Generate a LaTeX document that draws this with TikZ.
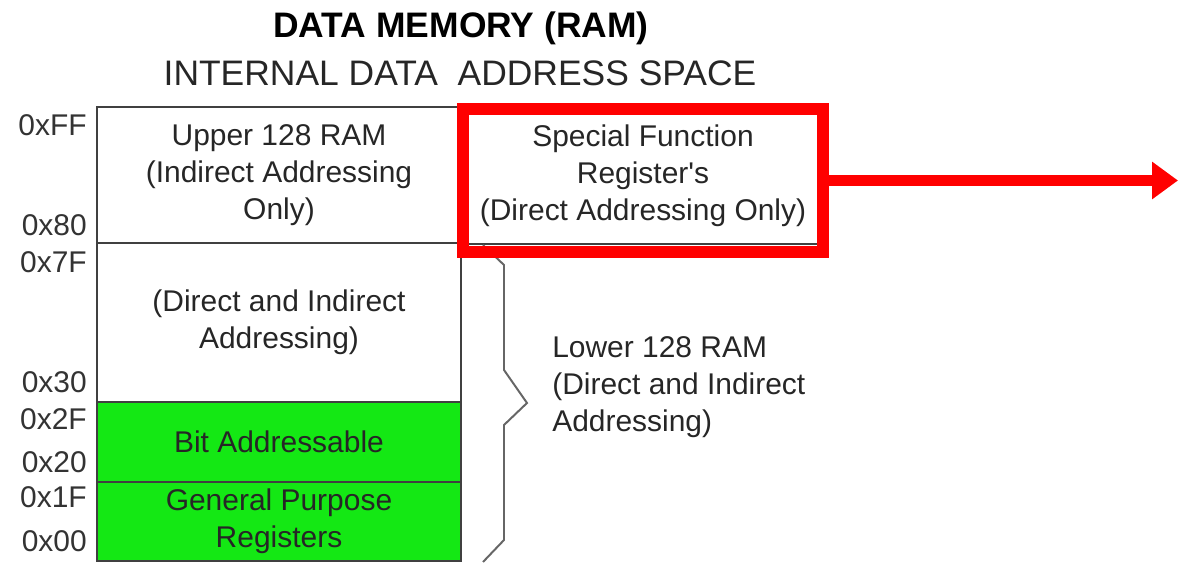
\documentclass[tikz,border=0pt]{standalone}
\usepackage{fontspec}
\setmainfont{Liberation Sans}
\usetikzlibrary{arrows.meta}

\definecolor{bitgreen}{RGB}{20,232,20}
\definecolor{hlred}{RGB}{255,0,0}
\newcommand{\bodyfont}{\fontsize{21.3pt}{26.3pt}\selectfont}
\newcommand{\titlefont}{\fontsize{25.2pt}{30pt}\selectfont}

\tikzset{
  membox/.style={draw=black!75, line width=1.4pt, minimum width=9.1cm, align=center,
    inner sep=0pt, text=black!85, font=\bodyfont},
  addr/.style={anchor=base east, inner sep=0pt, font=\bodyfont, text=black!80},
  highlight/.style={draw=hlred, line width=8.5pt, minimum width=9cm, minimum height=3.575cm, inner sep=0pt},
}

\begin{document}
\begin{tikzpicture}[x=0.025cm, y=-0.025cm]
\useasboundingbox (0,0) rectangle (1179,563);

% Titles
\node[font=\titlefont\bfseries] (title) at (461,28) {DATA MEMORY (RAM)};
\node[font=\titlefont, text=black!85] (subtitle) at (460,73) {INTERNAL DATA\ \ ADDRESS SPACE};

% Memory blocks
\node[membox, minimum height=3.425cm] (sfr) at (643,175.5) {Special Function\\Register\textquotesingle s\\(Direct Addressing Only)};
\node[membox, minimum height=3.4cm] (upper) at (279,175) {Upper 128 RAM\\(Indirect Addressing\\Only)};
\node[membox, minimum height=3.975cm] (lower) at (279,322.5) {(Direct and Indirect\\Addressing)};
\node[membox, minimum height=2cm, fill=bitgreen] (bitaddr) at (279,442) {Bit Addressable};
\node[membox, minimum height=1.975cm, fill=bitgreen] (gpr) at (279,521.5) {General Purpose\\Registers};

% Addresses
\foreach \lbl/\yy in {0xFF/136, 0x80/236, 0x7F/273, 0x30/393, 0x2F/430, 0x20/473, 0x1F/508, 0x00/552}
  \node[addr] (a\lbl) at (87,\yy) {\lbl};

% Brace for lower 128
\draw[black!60, line width=1.4pt] (483,245) -- (504,265) -- (504,370) -- (527,403)
  -- (504,425) -- (504,540) -- (483,562);
\node[anchor=west, align=left, font=\bodyfont, text=black!85, inner sep=0pt] (lowtxt) at (552,387)
  {Lower 128 RAM\\(Direct and Indirect\\Addressing)};

% Highlight
\node[highlight] (hl) at (643,180.5) {};
\coordinate (out) at (1178,180.5);
\draw[hlred, line width=8.5pt, -{Triangle[length=0.65cm, width=0.9cm]}] (hl.east) -- (out);
\end{tikzpicture}
\end{document}
